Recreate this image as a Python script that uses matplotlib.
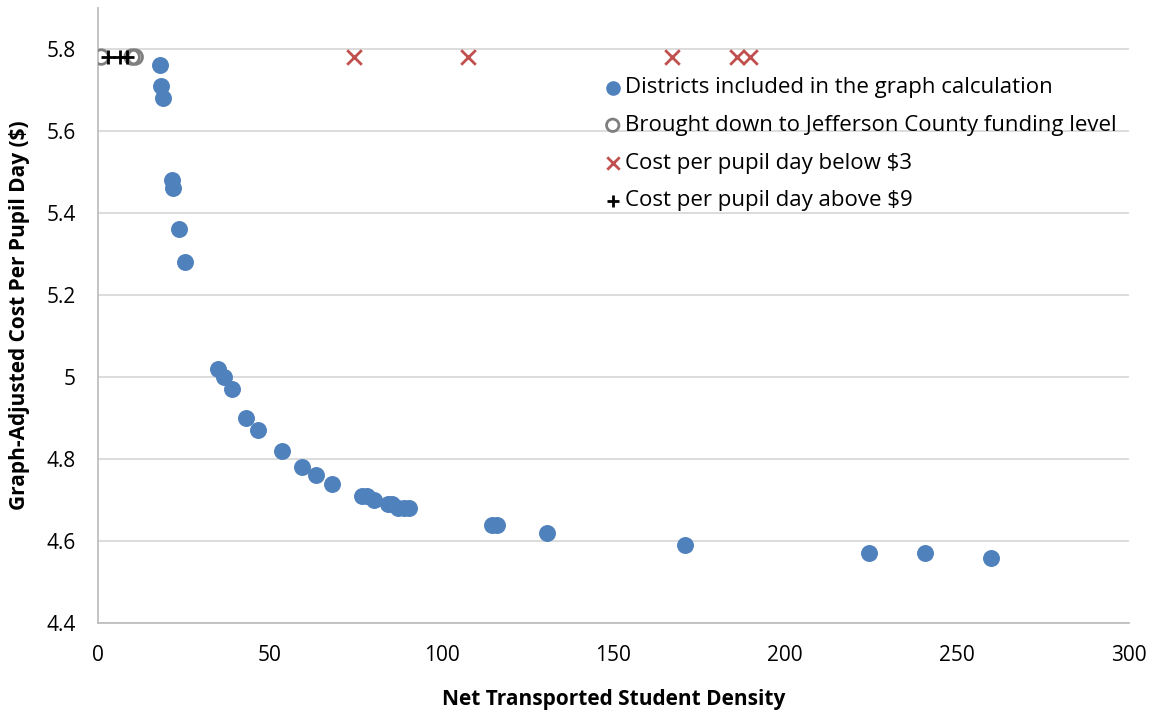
import matplotlib.pyplot as plt
import numpy as np

plt.rcParams['font.family'] = ['Open Sans', 'DejaVu Sans']

# Districts included in the graph calculation
dens = [18.0, 18.3, 18.9, 21.5, 21.8, 23.6, 25.3, 34.9, 36.7, 39.0, 43.1, 46.6,
        53.5, 59.4, 63.4, 68.1, 76.8, 78.3, 80.3, 84.4, 85.5, 87.3, 89.0, 90.5,
        114.6, 116.1, 130.6, 170.8, 224.3, 240.6, 259.8]
cost = [5.76, 5.71, 5.68, 5.48, 5.46, 5.36, 5.28, 5.02, 5.00, 4.97, 4.90, 4.87,
        4.82, 4.78, 4.76, 4.74, 4.71, 4.71, 4.70, 4.69, 4.69, 4.68, 4.68, 4.68,
        4.64, 4.64, 4.62, 4.59, 4.57, 4.57, 4.56]

# Brought down to Jefferson County funding level
jeff_x = [0.9, 9.9, 10.8]
jeff_y = [5.78, 5.78, 5.78]

# Cost per pupil day below $3
low_x = [74.5, 107.7, 167.0, 185.9, 189.7]
low_y = [5.78] * 5

# Cost per pupil day above $9
high_x = [2.9, 6.4, 8.4]
high_y = [5.78] * 3

fig = plt.figure(figsize=(11.54, 7.13), dpi=100)
ax = fig.add_axes([0.085, 0.126, 0.893, 0.863])

ax.scatter(dens, cost, s=125, color='#4F81BD', zorder=3,
           label='Districts included in the graph calculation')
ax.scatter(jeff_x, jeff_y, s=110, facecolor='none', edgecolor='#7F7F7F',
           linewidth=2, zorder=3, label='Brought down to Jefferson County funding level')
ax.scatter(low_x, low_y, s=110, marker='x', color='#C0504D', linewidth=2,
           zorder=3, label='Cost per pupil day below $3')
ax.scatter(high_x, high_y, s=110, marker='+', color='black', linewidth=2,
           zorder=4, label='Cost per pupil day above $9')

ax.set_xlim(0, 300)
ax.set_ylim(4.4, 5.9)
ax.set_xticks(np.arange(0, 301, 50))
ax.set_yticks(np.arange(4.4, 5.81, 0.2))
ax.set_yticklabels(['4.4', '4.6', '4.8', '5', '5.2', '5.4', '5.6', '5.8'])
ax.tick_params(labelsize=15, length=0)
ax.tick_params(axis='x', pad=16)
ax.tick_params(axis='y', pad=16)
ax.grid(axis='y', color='#D9D9D9', linewidth=1.3, zorder=0)
for s in ['top', 'right']:
    ax.spines[s].set_visible(False)
ax.spines['left'].set_color('#BFBFBF')
ax.spines['bottom'].set_color('#BFBFBF')
ax.spines['left'].set_linewidth(1.3)
ax.spines['bottom'].set_linewidth(1.3)

ax.set_xlabel('Net Transported Student Density', fontsize=15, fontweight='bold', labelpad=16)
ax.set_ylabel('Graph-Adjusted Cost Per Pupil Day ($)', fontsize=15, fontweight='bold', labelpad=12)

leg = ax.legend(loc='center left', bbox_to_anchor=(0.48, 0.778), frameon=False,
                fontsize=16, handletextpad=0.05, labelspacing=0.75,
                handlelength=1.0, markerscale=0.85, borderaxespad=0)

plt.savefig('out.png', dpi=100)
